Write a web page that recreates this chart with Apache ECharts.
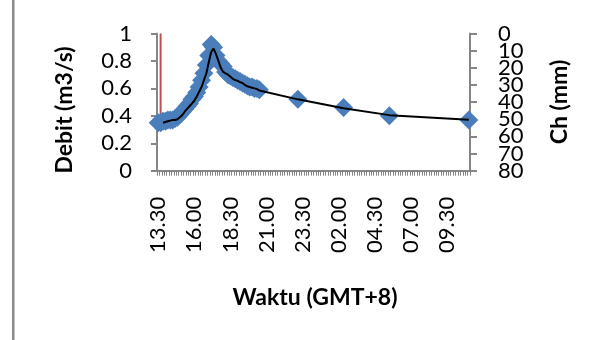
<!DOCTYPE html>
<html>
<head>
<meta charset="utf-8">
<script src="https://cdn.jsdelivr.net/npm/echarts@6/dist/echarts.min.js"></script>
<style>
  html, body { margin: 0; padding: 0; background: #fff; }
  #chart { width: 605px; height: 340px; }
</style>
</head>
<body>
<div id="chart"></div>
<script>
// Time categories: 10-minute steps from 13.30 to 11.00 the next day
const startMinutes = 13 * 60 + 30;
const stepMinutes = 10;
const slotCount = 130;
const timeCategories = [];
for (let i = 0; i < slotCount; i++) {
  const m = (startMinutes + i * stepMinutes) % (24 * 60);
  const hh = String(Math.floor(m / 60)).padStart(2, '0');
  const mm = String(m % 60).padStart(2, '0');
  timeCategories.push(hh + '.' + mm);
}

// Observed discharge (m3/s)
const debitTimes = [
  '13.30','13.40','13.50','14.00','14.10','14.20','14.30','14.40','14.50','15.00',
  '15.10','15.20','15.30','15.40','15.50','16.00','16.10','16.20','16.30','16.40',
  '16.50','17.00','17.10','17.20','17.30','17.40','17.50','18.00','18.10','18.20',
  '18.30','18.40','18.50','19.00','19.10','19.20','19.30','19.40','19.50','20.00',
  '20.10','20.20','20.30','23.10','02.20','05.30','11.00'
];
const debitValues = [
  0.35, 0.35, 0.36, 0.36, 0.37, 0.37, 0.37, 0.38, 0.39, 0.41,
  0.43, 0.45, 0.47, 0.49, 0.52, 0.54, 0.57, 0.61, 0.66, 0.71,
  0.77, 0.84, 0.92, 0.90, 0.84, 0.80, 0.78, 0.76, 0.72, 0.70,
  0.69, 0.68, 0.67, 0.66, 0.65, 0.64, 0.63, 0.62, 0.61, 0.61,
  0.60, 0.60, 0.59, 0.52, 0.46, 0.40, 0.37
];

// Computed discharge curve (m3/s)
const curveTimes = [
  '13.50','14.00','14.10','14.20','14.30','14.40','14.50','15.00','15.10','15.20',
  '15.30','15.40','15.50','16.00','16.10','16.20','16.30','16.40','16.50','17.00',
  '17.10','17.20','17.30','17.40','17.50','18.00','18.10','18.20','18.30','18.40',
  '18.50','19.00','19.10','19.20','19.30','19.40','19.50','20.00','20.10','20.20',
  '20.30','23.10','02.20','05.30','11.00'
];
const curveValues = [
  0.35, 0.355, 0.36, 0.365, 0.37, 0.37, 0.375, 0.39, 0.405, 0.43,
  0.45, 0.47, 0.49, 0.51, 0.54, 0.575, 0.61, 0.66, 0.71, 0.79,
  0.865, 0.89, 0.85, 0.80, 0.75, 0.72, 0.71, 0.70, 0.685, 0.67,
  0.66, 0.655, 0.645, 0.64, 0.625, 0.615, 0.61, 0.605, 0.60, 0.595,
  0.585, 0.52, 0.455, 0.405, 0.372
];

// Rainfall (mm)
const rainTimes = ['13.40'];
const rainValues = [47.5];

// Axis ticks
const debitTicks = { min: 0, max: 1, interval: 0.2 };
const rainTicks = { min: 0, max: 80, interval: 10 };

const zip = (a, b) => a.map((t, i) => [t, b[i]]);

const FONT = 'Lato, "Liberation Sans", sans-serif';
const AXIS_GREY = '#868686';
const LABEL_SIZE = 22;
const TITLE_FONT = 'bold 23px ' + FONT;

// The rainfall labels sit closer than their font height, so they are split
// over two coincident axes (even and odd steps) to keep every one drawn.
const rainLabel = (keepOdd) => ({
  color: '#000', fontSize: LABEL_SIZE, margin: 28, fontFamily: FONT,
  formatter: (v) => {
    const step = Math.round(v / rainTicks.interval);
    return (step % 2 === 1) === keepOdd ? String(v) : '';
  }
});

const chart = echarts.init(document.getElementById('chart'), null, { renderer: 'canvas' });
chart.setOption({
  animation: false,
  backgroundColor: '#ffffff',
  textStyle: { fontFamily: FONT },
  grid: { left: 157, right: 135, top: 33.5, bottom: 169.3 },
  xAxis: {
    type: 'category',
    data: timeCategories,
    boundaryGap: true,
    axisLine: { lineStyle: { color: AXIS_GREY, width: 2 } },
    axisTick: { show: true, interval: 0, length: 5, lineStyle: { color: AXIS_GREY, width: 1 } },
    axisLabel: {
      interval: 14,
      rotate: 90,
      margin: 26,
      color: '#000',
      fontSize: LABEL_SIZE,
      fontFamily: FONT
    },
    splitLine: { show: false }
  },
  yAxis: [
    {
      type: 'value',
      min: debitTicks.min, max: debitTicks.max, interval: debitTicks.interval,
      axisLine: { show: true, lineStyle: { color: AXIS_GREY, width: 2 } },
      axisTick: { show: true, length: 6, lineStyle: { color: AXIS_GREY, width: 2 } },
      axisLabel: { color: '#000', fontSize: LABEL_SIZE, margin: 25, fontFamily: FONT },
      splitLine: { show: false }
    },
    {
      type: 'value',
      inverse: true,
      min: rainTicks.min, max: rainTicks.max, interval: rainTicks.interval,
      position: 'right',
      axisLine: { show: true, lineStyle: { color: AXIS_GREY, width: 2 } },
      axisTick: { show: true, length: 7, lineStyle: { color: AXIS_GREY, width: 2 } },
      axisLabel: Object.assign(rainLabel(false), { showMinLabel: true, showMaxLabel: true }),
      splitLine: { show: false }
    },
    {
      type: 'value',
      inverse: true,
      min: rainTicks.min, max: rainTicks.max, interval: rainTicks.interval,
      position: 'right',
      offset: 0,
      axisLine: { show: false },
      axisTick: { show: false },
      axisLabel: rainLabel(true),
      splitLine: { show: false }
    }
  ],
  series: [
    {
      name: 'Ch',
      type: 'bar',
      yAxisIndex: 1,
      data: zip(rainTimes, rainValues),
      barWidth: 2,
      itemStyle: { color: '#C0504D' },
      z: 3
    },
    {
      name: 'Debit',
      type: 'scatter',
      yAxisIndex: 0,
      data: zip(debitTimes, debitValues),
      symbol: 'diamond',
      symbolSize: 19,
      itemStyle: { color: '#4A7EBB', opacity: 1 },
      z: 4
    },
    {
      name: 'Debit hitung',
      type: 'line',
      yAxisIndex: 0,
      data: zip(curveTimes, curveValues),
      connectNulls: true,
      showSymbol: false,
      symbol: 'none',
      lineStyle: { color: '#000', width: 2 },
      z: 5
    }
  ],
  graphic: [
    {
      type: 'rect',
      shape: { x: 12, y: 0, width: 2.5, height: 340 },
      style: { fill: '#8C8C8C' },
      silent: true
    },
    {
      type: 'text',
      x: 65, y: 110,
      rotation: Math.PI / 2,
      style: {
        text: 'Debit (m3/s)',
        font: TITLE_FONT,
        fill: '#000',
        textAlign: 'center',
        textVerticalAlign: 'middle'
      }
    },
    {
      type: 'text',
      x: 560, y: 102,
      rotation: Math.PI / 2,
      style: {
        text: 'Ch (mm)',
        font: TITLE_FONT,
        fill: '#000',
        textAlign: 'center',
        textVerticalAlign: 'middle'
      }
    },
    {
      type: 'text',
      x: 315, y: 298,
      style: {
        text: 'Waktu (GMT+8)',
        font: TITLE_FONT,
        fill: '#000',
        textAlign: 'center',
        textVerticalAlign: 'middle'
      }
    }
  ]
});
</script>
</body>
</html>
